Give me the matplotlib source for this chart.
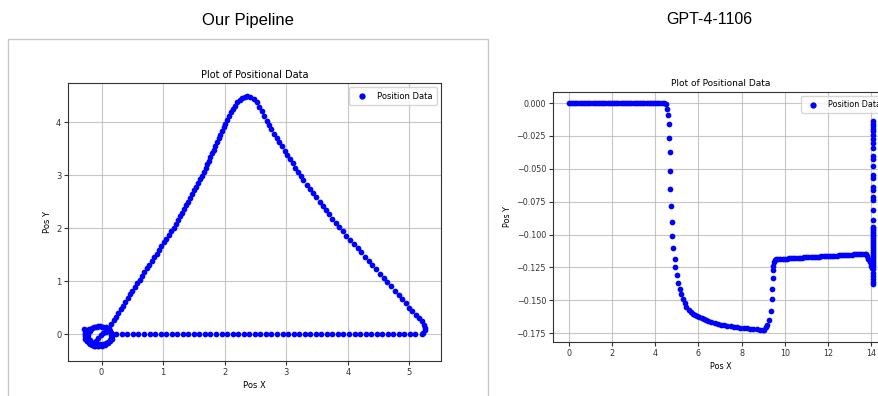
#!/usr/bin/env python3
"""
Side-by-side screenshot of two 'Plot of Positional Data' scatter charts
(Our Pipeline vs GPT-4-1106), saved as out.png
"""

import matplotlib.pyplot as plt
from matplotlib.patches import Rectangle

plt.rcParams['font.family'] = ['DejaVu Sans']
plt.rcParams['axes.unicode_minus'] = True

# ---------------- left panel: "Our Pipeline" ----------------
# small loop around the origin (two passes + diagonal stroke)
loop_x = [0.160, 0.154, 0.135, 0.104, 0.065, 0.019, -0.030, -0.079, -0.125, -0.164,
          -0.195, -0.214, -0.220, -0.214, -0.195, -0.164, -0.125, -0.079, -0.030, 0.019,
          0.065, 0.104, 0.135, 0.154,
          0.170, 0.163, 0.141, 0.106, 0.060, 0.007, -0.050, -0.107, -0.160, -0.206,
          -0.241, -0.263, -0.270, -0.263, -0.241, -0.206, -0.160, -0.107, -0.050, 0.007,
          0.060, 0.106, 0.141, 0.163,
          -0.28, -0.25, -0.27, -0.26, -0.23, -0.18, -0.12, -0.05,
          -0.13, -0.09, -0.05, -0.01, 0.03, 0.07, 0.10]
loop_y = [-0.020, 0.024, 0.065, 0.100, 0.127, 0.144, 0.150, 0.144, 0.127, 0.100,
          0.065, 0.024, -0.020, -0.064, -0.105, -0.140, -0.167, -0.184, -0.190, -0.184,
          -0.167, -0.140, -0.105, -0.064,
          -0.040, 0.009, 0.055, 0.094, 0.125, 0.144, 0.150, 0.144, 0.125, 0.094,
          0.055, 0.009, -0.040, -0.089, -0.135, -0.174, -0.205, -0.224, -0.230, -0.224,
          -0.205, -0.174, -0.135, -0.089,
          0.10, 0.08, 0.02, -0.06, -0.13, -0.19, -0.22, -0.23,
          -0.17, -0.12, -0.07, -0.02, 0.02, 0.05, 0.08]

# rising edge of the triangle
up_x = [0.120, 0.158, 0.196, 0.234, 0.273, 0.311, 0.349, 0.387, 0.425, 0.463,
        0.501, 0.540, 0.578, 0.617, 0.657, 0.696, 0.736, 0.775, 0.815, 0.854,
        0.894, 0.933, 0.973, 1.012, 1.052, 1.092, 1.131, 1.170, 1.203, 1.236,
        1.270, 1.303, 1.336, 1.369, 1.403, 1.436, 1.469, 1.502, 1.536, 1.569,
        1.602, 1.635, 1.663, 1.689, 1.716, 1.743, 1.769, 1.796, 1.822, 1.849,
        1.876, 1.902, 1.929, 1.955, 1.982, 2.009, 2.035, 2.065, 2.097, 2.130,
        2.165, 2.205, 2.245, 2.290, 2.330, 2.370]
up_y = [0.12, 0.19, 0.26, 0.33, 0.40, 0.47, 0.54, 0.61, 0.68, 0.75,
        0.82, 0.89, 0.96, 1.03, 1.10, 1.17, 1.24, 1.31, 1.38, 1.45,
        1.52, 1.59, 1.66, 1.73, 1.80, 1.87, 1.94, 2.01, 2.08, 2.15,
        2.22, 2.29, 2.36, 2.43, 2.50, 2.57, 2.64, 2.71, 2.78, 2.85,
        2.92, 2.99, 3.06, 3.13, 3.20, 3.27, 3.34, 3.41, 3.48, 3.55,
        3.62, 3.69, 3.76, 3.83, 3.90, 3.97, 4.04, 4.11, 4.18, 4.25,
        4.31, 4.37, 4.42, 4.46, 4.48, 4.49]

# falling edge of the triangle
down_x = [2.42, 2.47, 2.52, 2.56, 2.60, 2.64, 2.68, 2.713, 2.756, 2.800,
          2.844, 2.887, 2.931, 2.974, 3.018, 3.062, 3.105, 3.149, 3.192, 3.236,
          3.280, 3.332, 3.385, 3.437, 3.490, 3.542, 3.595, 3.647, 3.700, 3.752,
          3.804, 3.857, 3.916, 3.976, 4.037, 4.098, 4.159, 4.220, 4.280, 4.341,
          4.402, 4.463, 4.524, 4.584, 4.645, 4.706, 4.767, 4.828, 4.889, 4.950,
          5.000, 5.050, 5.110, 5.160, 5.210, 5.240, 5.260, 5.250, 5.220]
down_y = [4.48, 4.44, 4.37, 4.29, 4.20, 4.11, 4.02, 3.94, 3.86, 3.78,
          3.70, 3.62, 3.54, 3.46, 3.38, 3.30, 3.22, 3.14, 3.06, 2.98,
          2.90, 2.82, 2.74, 2.66, 2.58, 2.50, 2.42, 2.34, 2.26, 2.18,
          2.10, 2.02, 1.94, 1.86, 1.78, 1.70, 1.62, 1.54, 1.46, 1.38,
          1.30, 1.22, 1.14, 1.06, 0.98, 0.90, 0.82, 0.74, 0.66, 0.58,
          0.50, 0.43, 0.36, 0.30, 0.24, 0.18, 0.12, 0.07, 0.03]

# return leg along y = 0
base_x = [5.20, 5.10, 5.01, 4.92, 4.83, 4.74, 4.65, 4.56, 4.47, 4.38,
          4.29, 4.20, 4.11, 4.02, 3.93, 3.84, 3.75, 3.66, 3.57, 3.48,
          3.39, 3.30, 3.21, 3.12, 3.03, 2.94, 2.85, 2.76, 2.67, 2.58,
          2.49, 2.40, 2.31, 2.22, 2.13, 2.04, 1.95, 1.86, 1.77, 1.68,
          1.59, 1.50, 1.41, 1.32, 1.23, 1.14, 1.05, 0.96, 0.87, 0.78,
          0.69, 0.60, 0.51, 0.42, 0.33, 0.24, 0.17]
base_y = [0.01, 0.0, 0.0, 0.0, 0.0, 0.0, 0.0, 0.0, 0.0, 0.0,
          0.0, 0.0, 0.0, 0.0, 0.0, 0.0, 0.0, 0.0, 0.0, 0.0,
          0.0, 0.0, 0.0, 0.0, 0.0, 0.0, 0.0, 0.0, 0.0, 0.0,
          0.0, 0.0, 0.0, 0.0, 0.0, 0.0, 0.0, 0.0, 0.0, 0.0,
          0.0, 0.0, 0.0, 0.0, 0.0, 0.0, 0.0, 0.0, 0.0, 0.0,
          0.0, 0.0, 0.0, 0.0, 0.0, 0.0, 0.0]

left_xticks = [0, 1, 2, 3, 4, 5]
left_yticks = [0, 1, 2, 3, 4]

# ---------------- right panel: "GPT-4-1106" ----------------
flat_x = [0.0, 0.1, 0.2, 0.3, 0.4, 0.5, 0.6, 0.7, 0.8, 0.9,
          1.0, 1.1, 1.2, 1.3, 1.4, 1.5, 1.6, 1.7, 1.8, 1.9,
          2.0, 2.1, 2.2, 2.3, 2.4, 2.5, 2.6, 2.7, 2.8, 2.9,
          3.0, 3.1, 3.2, 3.3, 3.4, 3.5, 3.6, 3.7, 3.8, 3.9,
          4.0, 4.1, 4.2, 4.3, 4.4, 4.48]
flat_y = [0.0, 0.0, 0.0, 0.0, 0.0, 0.0, 0.0, 0.0, 0.0, 0.0,
          0.0, 0.0, 0.0, 0.0, 0.0, 0.0, 0.0, 0.0, 0.0, 0.0,
          0.0, 0.0, 0.0, 0.0, 0.0, 0.0, 0.0, 0.0, 0.0, 0.0,
          0.0, 0.0, 0.0, 0.0, 0.0, 0.0, 0.0, -0.0003, -0.0003, -0.0003,
          -0.0003, -0.0003, -0.0003, -0.0003, -0.0003, -0.0008]

drop_x = [4.54, 4.60, 4.62, 4.65, 4.68, 4.70, 4.71, 4.74, 4.77, 4.80,
          4.83, 4.90, 4.93, 4.99, 5.05, 5.13, 5.20, 5.28, 5.36, 5.45]
drop_y = [-0.0043, -0.0089, -0.0160, -0.0264, -0.0376, -0.0518, -0.0655, -0.0784, -0.0906, -0.1007,
          -0.1100, -0.1183, -0.1248, -0.1310, -0.1365, -0.1410, -0.1450, -0.1490, -0.1517, -0.1548]

floor_x = [5.55, 5.65, 5.75, 5.85, 5.95, 6.05, 6.15, 6.25, 6.35, 6.45,
           6.60, 6.75, 6.90, 7.05, 7.20, 7.35, 7.50, 7.65, 7.80, 7.95,
           8.10, 8.25, 8.40, 8.55, 8.70, 8.85, 9.00]
floor_y = [-0.1575, -0.1590, -0.1603, -0.1613, -0.1622, -0.1630, -0.1637, -0.1644, -0.1650, -0.1656,
           -0.1664, -0.1672, -0.1679, -0.1686, -0.1690, -0.1694, -0.1698, -0.1701, -0.1704, -0.1707,
           -0.1710, -0.1713, -0.1716, -0.1719, -0.1721, -0.1723, -0.1725]

rise_x = [9.05, 9.12, 9.20, 9.28, 9.36, 9.40, 9.43, 9.45, 9.46, 9.48, 9.51, 9.55]
rise_y = [-0.1722, -0.1705, -0.1687, -0.1650, -0.1578, -0.1490,
          -0.1413, -0.1330, -0.1268, -0.1236, -0.1205, -0.1195]

shelf_x = [9.6, 9.7, 9.8, 9.9, 10.0, 10.1, 10.2, 10.3, 10.4, 10.5,
           10.6, 10.7, 10.8, 10.9, 11.0, 11.1, 11.2, 11.3, 11.4, 11.5,
           11.6, 11.7, 11.8, 11.9, 12.0, 12.1, 12.2, 12.3, 12.4, 12.5,
           12.6, 12.7, 12.8, 12.9, 13.0, 13.1, 13.2, 13.3, 13.4, 13.5,
           13.6, 13.7]
shelf_y = [-0.1187, -0.1186, -0.1185, -0.1184, -0.1183, -0.1182, -0.1181, -0.1180, -0.1179, -0.1178,
           -0.1177, -0.1176, -0.1175, -0.1174, -0.1173, -0.1172, -0.1171, -0.1170, -0.1169, -0.1168,
           -0.1167, -0.1166, -0.1165, -0.1164, -0.1163, -0.1162, -0.1161, -0.1160, -0.1159, -0.1158,
           -0.1157, -0.1156, -0.1155, -0.1154, -0.1153, -0.1152, -0.1151, -0.1150, -0.1149, -0.1148,
           -0.1147, -0.1146]

dip_x = [13.75, 13.82, 13.88, 13.93, 13.98, 14.02]
dip_y = [-0.1148, -0.1162, -0.1185, -0.1212, -0.1238, -0.1255]

spike_x = [14.09, 14.10, 14.08, 14.10, 14.09, 14.11, 14.09, 14.10, 14.08, 14.10,
           14.09, 14.11, 14.09, 14.10, 14.08, 14.10, 14.09, 14.11, 14.09, 14.10,
           14.08, 14.10, 14.09, 14.11, 14.08, 14.10, 14.09, 14.11, 14.08, 14.10,
           14.09, 14.11, 14.08, 14.10, 14.09, 14.11, 14.08, 14.10, 14.09, 14.11,
           14.08, 14.10, 14.09, 14.10, 14.08, 14.09, 14.09]
spike_y = [-0.0140, -0.0158, -0.0178, -0.0196, -0.0216, -0.0241, -0.0274, -0.0304, -0.0343, -0.0406,
           -0.0426, -0.0480, -0.0546, -0.0571, -0.0635, -0.0660, -0.0716, -0.0736, -0.0812, -0.0888,
           -0.0939, -0.0951, -0.0965, -0.0980, -0.0995, -0.1010, -0.1025, -0.1040, -0.1055, -0.1070,
           -0.1085, -0.1100, -0.1115, -0.1130, -0.1145, -0.1160, -0.1175, -0.1190, -0.1205, -0.1220,
           -0.1240, -0.1265, -0.1290, -0.1315, -0.1340, -0.1360, -0.1375]

right_xticks = [0, 2, 4, 6, 8, 10, 12, 14]
right_yticks = [0.0, -0.025, -0.05, -0.075, -0.1, -0.125, -0.15, -0.175]

W, H = 879, 396


def draw_panel(ax, xs, ys, xlim, ylim, xticks, yticks, fs, title_fs, yfmt=None):
    """画一个散点面板"""
    ax.scatter(xs, ys, s=17, color='blue', label='Position Data', zorder=3, linewidths=0)
    ax.set_xlim(*xlim)
    ax.set_ylim(*ylim)
    ax.set_xticks(xticks)
    ax.set_yticks(yticks)
    if yfmt:
        ax.set_yticklabels([yfmt.format(v).replace('-', '\u2212') for v in yticks])
    ax.set_title('Plot of Positional Data', fontsize=title_fs, pad=4)
    ax.set_xlabel('Pos X', fontsize=fs, labelpad=3)
    ax.set_ylabel('Pos Y', fontsize=fs, labelpad=3)
    ax.tick_params(labelsize=fs, length=3, pad=2, colors='#333333')
    ax.grid(True, color='#b0b0b0', alpha=0.7, linewidth=0.8)
    ax.set_axisbelow(True)
    for sp in ax.spines.values():
        sp.set_color('#333333')
    ax.legend(loc='upper right', fontsize=fs, handletextpad=0.8, borderpad=0.5,
              markerscale=1.1)


fig = plt.figure(figsize=(W / 100, H / 100), dpi=100)

# left screenshot frame
fig.add_artist(Rectangle((8 / W, -0.05), 480 / W, (H - 39) / H + 0.05,
                         transform=fig.transFigure, fill=False,
                         edgecolor='#c8c8c8', linewidth=1))

ax1 = fig.add_axes([68.3 / W, (H - 360.7) / H, 372.4 / W, 277.4 / H])
draw_panel(ax1, loop_x + up_x + down_x + base_x, loop_y + up_y + down_y + base_y,
           (-0.54, 5.51), (-0.5, 4.73), left_xticks, left_yticks, 6, 7)

# right axes runs past the right edge of the picture (cropped screenshot)
ax2 = fig.add_axes([553 / W, (H - 341.7) / H, 336 / W, 250 / H])
draw_panel(ax2,
           flat_x + drop_x + floor_x + rise_x + shelf_x + dip_x + spike_x,
           flat_y + drop_y + floor_y + rise_y + shelf_y + dip_y + spike_y,
           (-0.73, 14.83), (-0.1814, 0.0086), right_xticks, right_yticks, 5.8, 6.5, '{:.3f}')

fig.text(248 / W, 1 - 20 / H, 'Our Pipeline', ha='center', va='center',
         fontsize=12, family='Liberation Sans')
fig.text(709 / W, 1 - 20 / H, 'GPT-4-1106', ha='center', va='center',
         fontsize=11.5, family='Liberation Sans')

fig.savefig('out.png', dpi=100)
